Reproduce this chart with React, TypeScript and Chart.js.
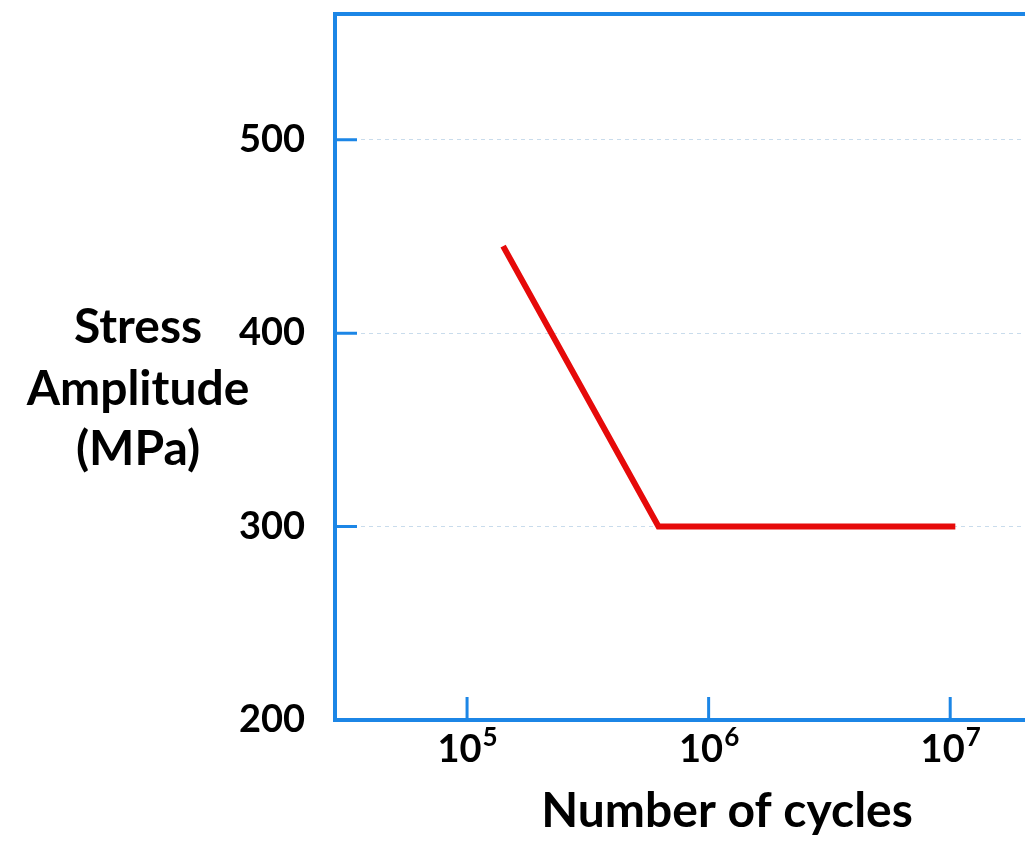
import { useEffect, useRef } from "react";
import { Chart, registerables } from "chart.js";

Chart.register(...registerables);

// ---- data ----
const cycles = [1.41e5, 6.2e5, 1.05e7];
const stress = [445, 300, 300];
const yTickValues = [200, 300, 400, 500];
const xTickValues = [1e5, 1e6, 1e7];
const xTickExponents = ["5", "6", "7"];
const yTitleLines = ["Stress", "Amplitude", "(MPa)"];
const xTitle = "Number of cycles";

const BLUE = "#1c86e6";
const RED = "#e60a0a";
const FONT = "Lato";

const framePlugin = {
  id: "framePlugin",
  afterDraw(chart: any) {
    const { ctx, chartArea, scales } = chart;
    const xs = scales.x;
    const ys = scales.y;
    ctx.save();
    // top frame line
    ctx.strokeStyle = BLUE;
    ctx.lineWidth = 4;
    ctx.beginPath();
    ctx.moveTo(chartArea.left - 2, chartArea.top);
    ctx.lineTo(chart.width, chartArea.top);
    ctx.stroke();
    // inward ticks
    ctx.lineWidth = 3;
    ctx.beginPath();
    xTickValues.forEach((v) => {
      const px = xs.getPixelForValue(v);
      ctx.moveTo(px, chartArea.bottom);
      ctx.lineTo(px, chartArea.bottom - 23);
    });
    yTickValues.slice(1).forEach((v) => {
      const py = ys.getPixelForValue(v);
      ctx.moveTo(chartArea.left, py);
      ctx.lineTo(chartArea.left + 22, py);
    });
    ctx.stroke();
    // x tick labels: 10 with superscript
    ctx.fillStyle = "#000";
    ctx.textBaseline = "alphabetic";
    ctx.textAlign = "left";
    xTickValues.forEach((v, i) => {
      const px = xs.getPixelForValue(v);
      ctx.font = `bold 38px ${FONT}`;
      const w1 = ctx.measureText("10").width;
      ctx.font = `bold 26px ${FONT}`;
      const w2 = ctx.measureText(xTickExponents[i]).width;
      const start = px - (w1 + w2) / 2;
      ctx.font = `bold 38px ${FONT}`;
      ctx.fillText("10", start, chartArea.bottom + 42);
      ctx.font = `bold 26px ${FONT}`;
      ctx.fillText(xTickExponents[i], start + w1 + 1, chartArea.bottom + 26);
    });
    // y title (horizontal, three lines)
    ctx.font = `bold 48px ${FONT}`;
    ctx.textAlign = "center";
    ctx.textBaseline = "middle";
    const centers = [328, 390, 450];
    yTitleLines.forEach((t, i) => {
      ctx.fillText(t, 138, centers[i]);
    });
    // x title
    ctx.fillText(xTitle, 727, 812);
    ctx.restore();
  },
};

export default function App() {
  const ref = useRef<HTMLCanvasElement | null>(null);
  useEffect(() => {
    if (!ref.current) return;
    const chart = new Chart(ref.current, {
      type: "line",
      data: {
        datasets: [
          {
            data: cycles.map((c, i) => ({ x: c, y: stress[i] })),
            borderColor: RED,
            borderWidth: 6,
            pointRadius: 0,
            fill: false,
            tension: 0,
          },
        ],
      },
      options: {
        animation: false,
        responsive: false,
        layout: { padding: { top: 14, right: 0, left: 0, bottom: 0 } },
        plugins: { legend: { display: false }, tooltip: { enabled: false } },
        scales: {
          x: {
            type: "logarithmic",
            min: 2.84e4,
            max: 2.04e7,
            afterBuildTicks: (s: any) => {
              s.ticks = xTickValues.map((v) => ({ value: v }));
            },
            afterFit: (s: any) => {
              s.height = 121;
              s.paddingLeft = 0;
              s.paddingRight = 0;
            },
            ticks: { display: false },
            grid: { display: false },
            border: { display: true, color: BLUE, width: 4 },
          },
          y: {
            type: "linear",
            min: 200,
            max: 565,
            afterBuildTicks: (s: any) => {
              s.ticks = yTickValues.map((v) => ({ value: v }));
            },
            afterFit: (s: any) => {
              s.width = 335;
              s.paddingTop = 0;
              s.paddingBottom = 0;
            },
            ticks: {
              color: "#000",
              padding: 30,
              font: { family: FONT, weight: "bold", size: 38 },
            },
            grid: {
              drawTicks: false,
              lineWidth: 1,
              color: (c: any) =>
                c.tick && c.tick.value === 200 ? "rgba(0,0,0,0)" : "#c9dcec",
            },
            border: { display: true, color: BLUE, width: 4, dash: [4, 4] },
          },
        },
      },
      plugins: [framePlugin],
    });
    return () => chart.destroy();
  }, []);
  return (
    <div style={{ position: "fixed", left: 0, top: 0, width: 1025, height: 841, background: "#fff" }}>
      <canvas ref={ref} width={1025} height={841} style={{ width: 1025, height: 841, display: "block" }} />
    </div>
  );
}
